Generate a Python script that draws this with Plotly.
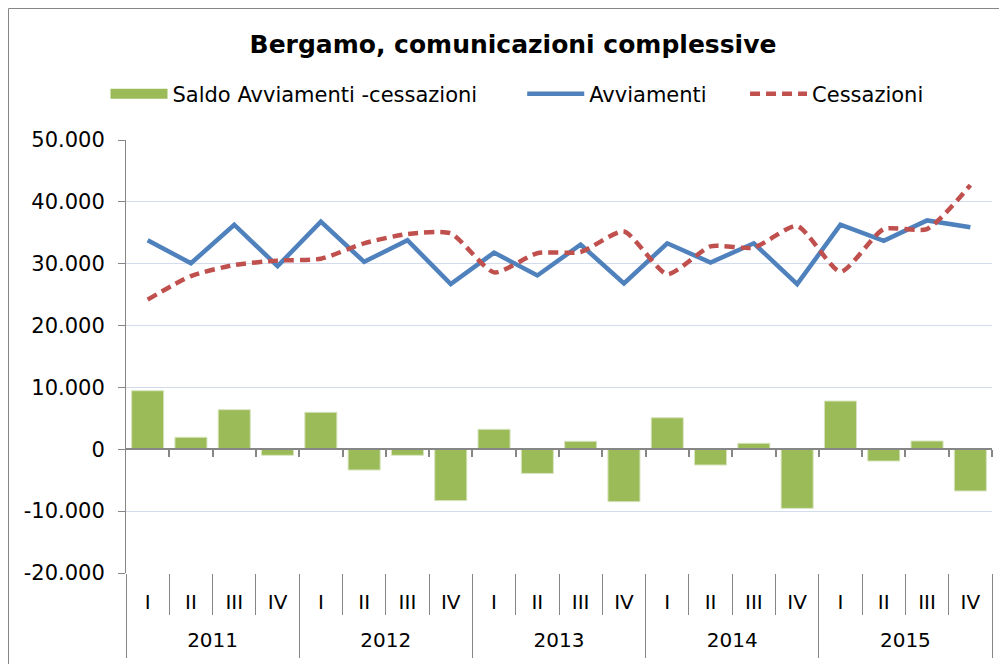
import plotly.graph_objects as go

years = ["2011", "2012", "2013", "2014", "2015"]
quarters = ["I", "II", "III", "IV"]

saldo = [9470, 1940, 6400, -970, 5980, -3350, -970, -8300, 3230, -3900,
         1290, -8470, 5100, -2540, 970, -9550, 7800, -1900, 1340, -6740]
avviamenti = [33800, 30070, 36300, 29600, 36800, 30300, 33800, 26700, 31800, 28100,
              33100, 26800, 33300, 30200, 33300, 26700, 36300, 33700, 37000, 35900]
cessazioni = [24200, 28000, 29800, 30500, 30800, 33300, 34800, 34900, 28600, 31700,
              31900, 35200, 28300, 32800, 32600, 36100, 28700, 35600, 35600, 42700]

y_tickvals = [50000, 40000, 30000, 20000, 10000, 0, -10000, -20000]
y_ticktext = ["50.000", "40.000", "30.000", "20.000", "10.000", "0", "-10.000", "-20.000"]

# category keys (year + quarter) and their displayed quarter labels
cat_keys = [f"{y} {q}" for y in years for q in quarters]
cat_labels = [q for _ in years for q in quarters]
n = len(cat_keys)
nq = len(quarters)
year_centers = [i * nq + (nq - 1) / 2 for i in range(len(years))]
year_bounds = [i * nq - 0.5 for i in range(len(years) + 1)]
quarter_bounds = [i + 0.5 for i in range(n)]

FONT = "DejaVu Sans"
GRAY = "#868686"
NB = "\u00A0"

# page is drawn with an 8px body margin; work in figure coordinates
W, H = 999, 656
PL, PR, PT, PB = 118, 984, 132, 565

fig = go.Figure()
# legend entry for the bars (wide swatch like the original)
fig.add_trace(go.Scatter(x=[None], y=[None], mode="lines",
                         name="Saldo Avviamenti -cessazioni" + NB * 6,
                         line=dict(color="#9BBB59", width=10)))
fig.add_trace(go.Bar(
    x=cat_keys, y=saldo, name="Saldo Avviamenti -cessazioni", showlegend=False,
    marker=dict(color="#9BBB59", line=dict(color="#D7E4BD", width=1)),
))
fig.add_trace(go.Scatter(
    x=cat_keys, y=avviamenti, name="Avviamenti" + NB * 5, mode="lines",
    line=dict(color="#4F81BD", width=4.5),
))
fig.add_trace(go.Scatter(
    x=cat_keys, y=cessazioni, name="Cessazioni", mode="lines",
    line=dict(color="#C0504D", width=4.5, dash="10px,6px", shape="spline", smoothing=0.6),
))
# helper traces so that the overlay axes are drawn
fig.add_trace(go.Scatter(x=[-0.5, n - 0.5], y=[0, 0], xaxis="x2", mode="lines",
                         line=dict(width=0), showlegend=False, hoverinfo="skip"))
fig.add_trace(go.Scatter(x=[-0.5, n - 0.5], y=[0, 0], xaxis="x3", mode="lines",
                         line=dict(width=0), showlegend=False, hoverinfo="skip"))

fig.update_layout(
    width=W, height=H,
    margin=dict(l=PL, r=W - PR, t=PT, b=H - PB, autoexpand=False),
    paper_bgcolor="white", plot_bgcolor="white",
    font=dict(family=FONT, size=20, color="black"),
    separators=",.",
    title=dict(text="<b>Bergamo, comunicazioni complessive</b>",
               x=505 / W, xanchor="center", xref="container",
               y=1 - 36 / H, yanchor="middle", yref="container",
               font=dict(family=FONT, size=25, color="black")),
    legend=dict(orientation="h", x=509 / W, xanchor="center", xref="container",
                y=1 - 86 / H, yanchor="middle", yref="container",
                font=dict(family=FONT, size=21), itemwidth=57,
                traceorder="normal", bgcolor="rgba(0,0,0,0)"),
    bargap=0.26,
    xaxis=dict(type="category", categoryorder="array", categoryarray=cat_keys,
               range=[-0.5, n - 0.5],
               tickmode="array", tickvals=cat_keys, ticktext=cat_labels,
               showgrid=False, showline=False, zeroline=False,
               ticks="outside", tickson="boundaries", ticklen=41,
               tickcolor=GRAY, tickwidth=1, ticklabelstandoff=15,
               tickfont=dict(family=FONT, size=20, color="black")),
    xaxis2=dict(overlaying="x", anchor="free", position=20 / 70, type="linear",
                range=[-0.5, n - 0.5], showgrid=False, zeroline=False,
                showline=True, linecolor=GRAY, linewidth=2,
                ticks="outside", ticklen=7, tickcolor=GRAY, tickwidth=2,
                tickmode="array", tickvals=quarter_bounds, showticklabels=False),
    xaxis3=dict(overlaying="x", anchor="y", side="bottom", type="linear",
                range=[-0.5, n - 0.5], showgrid=False, zeroline=False, showline=False,
                tickmode="array", tickvals=year_centers, ticktext=years, ticks="",
                ticklabelstandoff=53,
                tickfont=dict(family=FONT, size=20, color="black"),
                minor=dict(tickmode="array", tickvals=year_bounds, ticks="outside",
                           ticklen=84, tickcolor=GRAY, tickwidth=1, showgrid=False)),
    yaxis=dict(range=[-20000, 50000], tickmode="array", tickvals=y_tickvals, ticktext=y_ticktext,
               showgrid=True, gridcolor="#D3DCEC", gridwidth=1,
               zeroline=False, showline=True, linecolor=GRAY, linewidth=1,
               ticks="outside", ticklen=7, tickcolor=GRAY, ticklabelstandoff=9,
               tickfont=dict(family=FONT, size=21, color="black")),
)

ph = PB - PT
pw = PR - PL
fig.add_shape(type="rect", xref="paper", yref="paper",
              x0=(0.5 - PL) / pw, x1=1.2, y0=-0.5, y1=(PB - 0.5) / ph,
              line=dict(color=GRAY, width=1), fillcolor="rgba(0,0,0,0)", layer="below")

fig.write_html("out.html")
